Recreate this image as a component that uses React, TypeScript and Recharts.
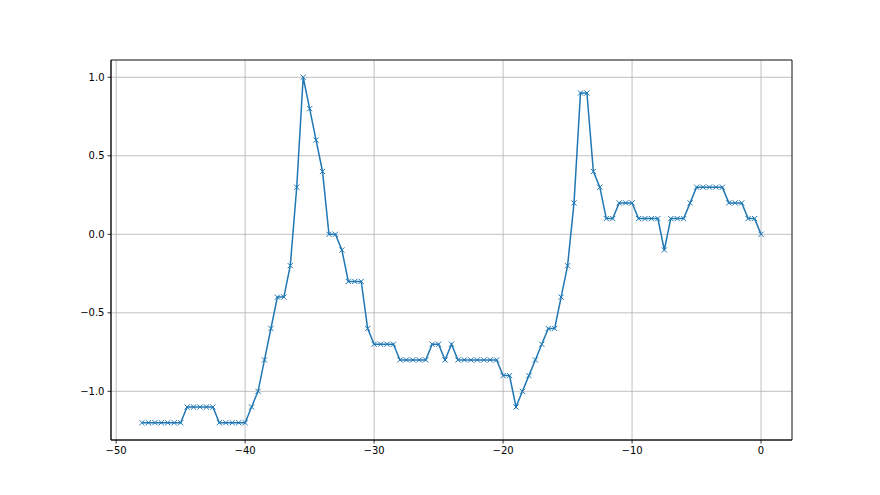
import React from 'react';
import {
  LineChart,
  Line,
  XAxis,
  YAxis,
  CartesianGrid,
  ReferenceArea
} from 'recharts';

const xValues: number[] = [
  -48, -47.5, -47, -46.5, -46, -45.5, -45, -44.5, -44, -43.5, -43, -42.5, -42, -41.5, -41, -40.5,
  -40, -39.5, -39, -38.5, -38, -37.5, -37, -36.5, -36, -35.5, -35, -34.5, -34, -33.5, -33, -32.5,
  -32, -31.5, -31, -30.5, -30, -29.5, -29, -28.5, -28, -27.5, -27, -26.5, -26, -25.5, -25, -24.5,
  -24, -23.5, -23, -22.5, -22, -21.5, -21, -20.5, -20, -19.5, -19, -18.5, -18, -17.5, -17, -16.5,
  -16, -15.5, -15, -14.5, -14, -13.5, -13, -12.5, -12, -11.5, -11, -10.5, -10, -9.5, -9, -8.5,
  -8, -7.5, -7, -6.5, -6, -5.5, -5, -4.5, -4, -3.5, -3, -2.5, -2, -1.5, -1, -0.5, 0
];

const yValues: number[] = [
  -1.2, -1.2, -1.2, -1.2, -1.2, -1.2, -1.2, -1.1, -1.1, -1.1, -1.1, -1.1, -1.2, -1.2, -1.2, -1.2,
  -1.2, -1.1, -1.0, -0.8, -0.6, -0.4, -0.4, -0.2, 0.3, 1.0, 0.8, 0.6, 0.4, 0, 0, -0.1,
  -0.3, -0.3, -0.3, -0.6, -0.7, -0.7, -0.7, -0.7, -0.8, -0.8, -0.8, -0.8, -0.8, -0.7, -0.7, -0.8,
  -0.7, -0.8, -0.8, -0.8, -0.8, -0.8, -0.8, -0.8, -0.9, -0.9, -1.1, -1.0, -0.9, -0.8, -0.7, -0.6,
  -0.6, -0.4, -0.2, 0.2, 0.9, 0.9, 0.4, 0.3, 0.1, 0.1, 0.2, 0.2, 0.2, 0.1, 0.1, 0.1,
  0.1, -0.1, 0.1, 0.1, 0.1, 0.2, 0.3, 0.3, 0.3, 0.3, 0.3, 0.2, 0.2, 0.2, 0.1, 0.1, 0
];

const xTicks = [-50, -40, -30, -20, -10, 0];
const yTicks = [-1.0, -0.5, 0.0, 0.5, 1.0];

const data = xValues.map((x, i) => ({ x, y: yValues[i] }));

const COLOR = '#1f77b4';
const minus = (s: string) => s.replace('-', '\u2212');

const XMarker = (props: any) => {
  const { cx, cy } = props;
  if (cx == null || cy == null) return null;
  const r = 2.6;
  return (
    <g>
      <line x1={cx - r} y1={cy - r} x2={cx + r} y2={cy + r} stroke={COLOR} strokeWidth={1} />
      <line x1={cx - r} y1={cy + r} x2={cx + r} y2={cy - r} stroke={COLOR} strokeWidth={1} />
    </g>
  );
};

const tickStyle = { fontSize: 10, fill: '#000', fontFamily: 'DejaVu Sans' };

const App: React.FC = () => {
  return (
    <div style={{ position: 'absolute', left: 0, top: 0, width: 880, height: 495, background: '#fff' }}>
      <LineChart
        width={880}
        height={495}
        data={data}
        margin={{ top: 60, right: 88, bottom: 25, left: 51 }}
      >
        <CartesianGrid stroke="#b0b0b0" strokeWidth={0.8} />
        <XAxis
          dataKey="x"
          type="number"
          domain={[-50.4, 2.4]}
          ticks={xTicks}
          allowDataOverflow
          height={30}
          tickSize={3.5}
          tickMargin={3}
          tick={tickStyle}
          tickFormatter={(v: number) => minus(String(v))}
          stroke="#000"
          axisLine={{ stroke: '#000', strokeWidth: 0.8 }}
          tickLine={{ stroke: '#000', strokeWidth: 0.8 }}
        />
        <YAxis
          type="number"
          domain={[-1.31, 1.11]}
          ticks={yTicks}
          allowDataOverflow
          width={60}
          tickSize={3.5}
          tickMargin={3}
          tick={tickStyle}
          tickFormatter={(v: number) => minus(v.toFixed(1))}
          stroke="#000"
          axisLine={{ stroke: '#000', strokeWidth: 0.8 }}
          tickLine={{ stroke: '#000', strokeWidth: 0.8 }}
        />
        <ReferenceArea
          x1={-50.4}
          x2={2.4}
          y1={-1.31}
          y2={1.11}
          fill="none"
          stroke="#000"
          strokeWidth={0.8}
          ifOverflow="visible"
        />
        <Line
          type="linear"
          dataKey="y"
          stroke={COLOR}
          strokeWidth={1.5}
          dot={<XMarker />}
          activeDot={false}
          isAnimationActive={false}
        />
      </LineChart>
    </div>
  );
};

export default App;
